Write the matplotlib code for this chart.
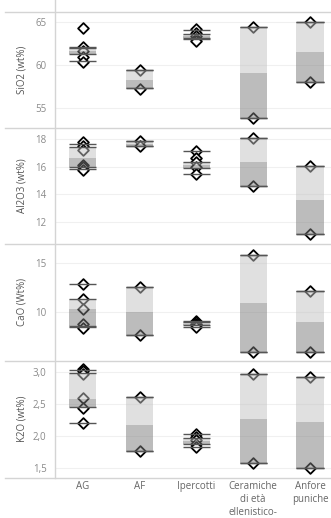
import numpy as np
import matplotlib.pyplot as plt
from matplotlib.lines import Line2D

plt.rcParams['font.family'] = ['Open Sans', 'DejaVu Sans']

categories = ['AG', 'AF', 'Ipercotti', 'Ceramiche\ndi età\nellenistico-', 'Anfore\npuniche']

# measured values per group
sio2_points = [[64.3, 62.1, 61.6, 60.9, 60.3], [59.4, 57.2], [64.1, 63.7, 63.4, 63.0, 62.8],
               [64.4, 53.9], [65.0, 58.0]]
al2o3_points = [[17.75, 17.5, 17.2, 16.1, 15.95, 15.75], [17.85, 17.5],
                [17.15, 16.6, 16.3, 15.95, 15.45], [18.1, 14.6], [16.05, 11.1]]
cao_points = [[12.8, 11.3, 10.3, 8.8, 8.4], [12.5, 7.7], [9.15, 9.0, 8.85, 8.7, 8.55],
              [15.8, 6.05], [12.15, 6.05]]
k2o_points = [[3.05, 3.02, 2.97, 2.6, 2.44, 2.2], [2.61, 1.77], [2.03, 1.98, 1.93, 1.88, 1.82],
              [2.97, 1.58], [2.92, 1.5]]

# box stats: (low whisker, q1, median, q3, high whisker)
sio2_box = [(60.45, 61.3, 61.65, 62.0, 62.1), (57.3, 57.3, 58.3, 59.4, 59.4),
            (62.95, 63.1, 63.3, 63.55, 64.0), (53.9, 53.9, 59.1, 64.4, 64.4),
            (58.0, 58.0, 61.5, 65.0, 65.0)]
al2o3_box = [(15.8, 15.95, 16.6, 17.45, 17.65), (17.5, 17.5, 17.65, 17.85, 17.85),
             (15.45, 15.9, 16.1, 16.35, 17.15), (14.6, 14.6, 16.35, 18.1, 18.1),
             (11.1, 11.1, 13.56, 16.05, 16.05)]
cao_box = [(8.55, 8.6, 10.3, 11.3, 12.8), (7.7, 7.7, 10.05, 12.5, 12.5),
           (8.5, 8.75, 8.85, 9.0, 9.15), (6.05, 6.05, 10.93, 15.8, 15.8),
           (6.05, 6.05, 9.0, 12.15, 12.15)]
k2o_box = [(2.2, 2.45, 2.58, 2.98, 3.03), (1.77, 1.77, 2.17, 2.61, 2.61),
           (1.82, 1.87, 1.92, 1.97, 2.03), (1.58, 1.58, 2.26, 2.97, 2.97),
           (1.5, 1.5, 2.21, 2.92, 2.92)]

titles = ['SiO2 (wt%)', 'Al2O3 (wt%)', 'CaO (Wt%)', 'K2O (wt%)']
ticks = [[55, 60, 65], [12, 14, 16, 18], [10, 15], [1.5, 2.0, 2.5, 3.0]]
ylims = [(52.76, 66.15), (10.38, 18.82), (5.15, 16.87), (1.34, 3.18)]
panels = [(11.7, 127.7), (127.7, 244), (244, 360.5), (360.5, 478)]

W, H = 331, 518
fig = plt.figure(figsize=(W / 100, H / 100), dpi=100)
x = np.arange(len(categories))
bw = 0.48

data = [(sio2_points, sio2_box), (al2o3_points, al2o3_box), (cao_points, cao_box), (k2o_points, k2o_box)]
for i, (pts, box) in enumerate(data):
    top, bot = panels[i]
    ph = bot - top
    ax = fig.add_axes([55 / W, 1 - bot / H, 276 / W, ph / H])
    ax.set_xlim(-0.49, 4.37)
    ax.set_ylim(*ylims[i])
    for s in ax.spines.values():
        s.set_visible(False)
    ax.set_xticks([])
    ax.set_yticks(ticks[i])
    if i == 3:
        ax.set_yticklabels([f'{t:.1f}'.replace('.', ',') for t in ticks[i]])
    ax.tick_params(axis='y', length=0, pad=6, labelsize=7, labelcolor='#8a8a8a')
    ax.grid(axis='y', color='#f0f0f0', lw=0.8)
    ax.set_axisbelow(True)
    ax.set_ylabel(titles[i], fontsize=7, color='#555555')
    ax.yaxis.set_label_coords(-27 / 276, 0.5)

    lo, q1, med, q3, hi = [np.array(v) for v in zip(*box)]
    for j, p in enumerate(pts):
        ax.scatter([x[j]] * len(p), p, marker='D', s=30, facecolor='white',
                   edgecolor='black', lw=1.3, zorder=3)
    ax.bar(x, q3 - med, bottom=med, width=bw, color='#c2c2c2', alpha=0.5, zorder=4)
    ax.bar(x, med - q1, bottom=q1, width=bw, color='#7b7b7b', alpha=0.5, zorder=4)
    for j in range(len(x)):
        ax.hlines([lo[j], q1[j], q3[j], hi[j]], x[j] - bw / 2, x[j] + bw / 2,
                  color='#555555', lw=1.0, zorder=5)

    if i == 3:
        for j, c in enumerate(categories):
            ax.text(x[j], -3 / ph, c, transform=ax.get_xaxis_transform(), ha='center',
                    va='top', fontsize=7, color='#666666', linespacing=1.22)

# panel separators and row header divider
for top, bot in panels:
    fig.add_artist(Line2D([5 / W, 1], [1 - top / H] * 2, color='#d4d4d4', lw=1))
fig.add_artist(Line2D([5 / W, 1], [1 - 478 / H] * 2, color='#d4d4d4', lw=1))
fig.add_artist(Line2D([55 / W, 55 / W], [1, 1 - 478 / H], color='#d4d4d4', lw=1))

fig.savefig('out.png', dpi=100)
